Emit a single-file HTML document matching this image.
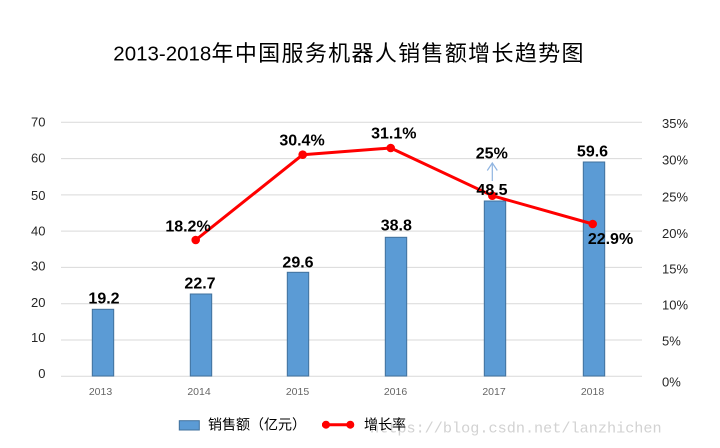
<!DOCTYPE html>
<html>
<head>
<meta charset="utf-8">
<style>
html,body{margin:0;padding:0;background:#fff;}
svg{display:block;}
</style>
</head>
<body>
<svg width="720" height="448" viewBox="0 0 720 448" xmlns="http://www.w3.org/2000/svg">
<rect x="0" y="0" width="720" height="448" fill="#fff"/>
<!-- Title -->
<text x="113.3" y="60.5" font-family="'Liberation Sans',sans-serif" font-size="20.5" fill="#000" textLength="98" lengthAdjust="spacingAndGlyphs">2013-2018</text>
<text x="211.5" y="60.8" font-family="'Noto Sans CJK SC',sans-serif" font-size="22" fill="#000" textLength="372" lengthAdjust="spacing">年中国服务机器人销售额增长趋势图</text>
<!-- gridlines -->
<g stroke="#d9d9d9" stroke-width="1">
  <line x1="61" y1="122.3" x2="642" y2="122.3"/>
  <line x1="61" y1="158.6" x2="642" y2="158.6"/>
  <line x1="61" y1="194.9" x2="642" y2="194.9"/>
  <line x1="61" y1="231.1" x2="642" y2="231.1"/>
  <line x1="61" y1="267.4" x2="642" y2="267.4"/>
  <line x1="61" y1="303.7" x2="642" y2="303.7"/>
  <line x1="61" y1="340" x2="642" y2="340"/>
  <line x1="61" y1="376.2" x2="642" y2="376.2"/>
</g>
<!-- left axis labels -->
<g font-family="'Liberation Sans',sans-serif" font-size="13" fill="#262626" text-anchor="end">
  <text x="45.5" y="126.4">70</text>
  <text x="45.5" y="162.4">60</text>
  <text x="45.5" y="200">50</text>
  <text x="45.5" y="235.7">40</text>
  <text x="45.5" y="270.4">30</text>
  <text x="45.5" y="307">20</text>
  <text x="45.5" y="342">10</text>
  <text x="45.5" y="378">0</text>
</g>
<!-- right axis labels -->
<g font-family="'Liberation Sans',sans-serif" font-size="13" fill="#262626" text-anchor="start">
  <text x="662" y="128">35%</text>
  <text x="662" y="164.7">30%</text>
  <text x="662" y="201.4">25%</text>
  <text x="662" y="238">20%</text>
  <text x="662" y="273.4">15%</text>
  <text x="662" y="309.7">10%</text>
  <text x="662" y="345.7">5%</text>
  <text x="662" y="386.4">0%</text>
</g>
<!-- x labels -->
<g font-family="'Liberation Sans',sans-serif" font-size="10.5" fill="#666" text-anchor="middle">
  <text x="100.5" y="394.8">2013</text>
  <text x="199" y="394.8">2014</text>
  <text x="297.5" y="394.8">2015</text>
  <text x="395.5" y="394.8">2016</text>
  <text x="494" y="394.8">2017</text>
  <text x="592.5" y="394.8">2018</text>
</g>
<!-- bars -->
<g fill="#5b9bd5" stroke="#41719c" stroke-width="1">
  <rect x="92.3" y="309.3" width="21.4" height="66.7"/>
  <rect x="190.3" y="294" width="21.4" height="82"/>
  <rect x="287.3" y="272.3" width="21.4" height="103.7"/>
  <rect x="385.3" y="237.3" width="21.4" height="138.7"/>
  <rect x="484.3" y="201" width="21.4" height="175"/>
  <rect x="583.3" y="162" width="21.4" height="214"/>
</g>
<!-- arrow -->
<g stroke="#8fb4e0" stroke-width="1.2" fill="none">
  <line x1="492.3" y1="163" x2="492.3" y2="181"/>
  <polyline points="487.3,170.5 492.3,163 497.3,170.5"/>
</g>
<!-- line -->
<polyline points="195.7,240 302.7,154.7 390.7,148 492.3,195.7 592.7,224" fill="none" stroke="#ff0000" stroke-width="3" stroke-linejoin="round"/>
<g fill="#ff0000">
  <circle cx="195.7" cy="240" r="4.3"/>
  <circle cx="302.7" cy="154.7" r="4.3"/>
  <circle cx="390.7" cy="148" r="4.3"/>
  <circle cx="492.3" cy="195.7" r="4.3"/>
  <circle cx="592.7" cy="224" r="4.3"/>
</g>
<!-- data labels -->
<g font-family="'Liberation Sans',sans-serif" font-size="16" font-weight="bold" fill="#000" text-anchor="middle">
  <text x="104" y="303.7">19.2</text>
  <text x="200" y="288.4">22.7</text>
  <text x="188" y="231.7">18.2%</text>
  <text x="298" y="267.4">29.6</text>
  <text x="396.3" y="230.7">38.8</text>
  <text x="302" y="145.7">30.4%</text>
  <text x="393.8" y="138.4">31.1%</text>
  <text x="491.8" y="158.4">25%</text>
  <text x="492" y="195">48.5</text>
  <text x="592.5" y="156.4">59.6</text>
  <text x="610.5" y="244">22.9%</text>
</g>
<!-- watermark -->
<text x="370" y="432.5" font-family="'Liberation Mono',monospace" font-size="15.2" fill="#d2d2d2">https://blog.csdn.net/lanzhichen</text>
<!-- legend -->
<rect x="179.3" y="420.7" width="20" height="9.3" fill="#5b9bd5" stroke="#41719c" stroke-width="1"/>
<text x="208" y="429.6" font-family="'Liberation Sans','Noto Sans CJK SC',sans-serif" font-size="14" fill="#000">销售额（亿元）</text>
<line x1="322" y1="424.7" x2="354" y2="424.7" stroke="#ff0000" stroke-width="3"/>
<circle cx="326" cy="424.7" r="4" fill="#ff0000"/>
<circle cx="350.3" cy="424.7" r="4" fill="#ff0000"/>
<text x="364" y="429.6" font-family="'Liberation Sans','Noto Sans CJK SC',sans-serif" font-size="14" fill="#000">增长率</text>
</svg>
</body>
</html>
